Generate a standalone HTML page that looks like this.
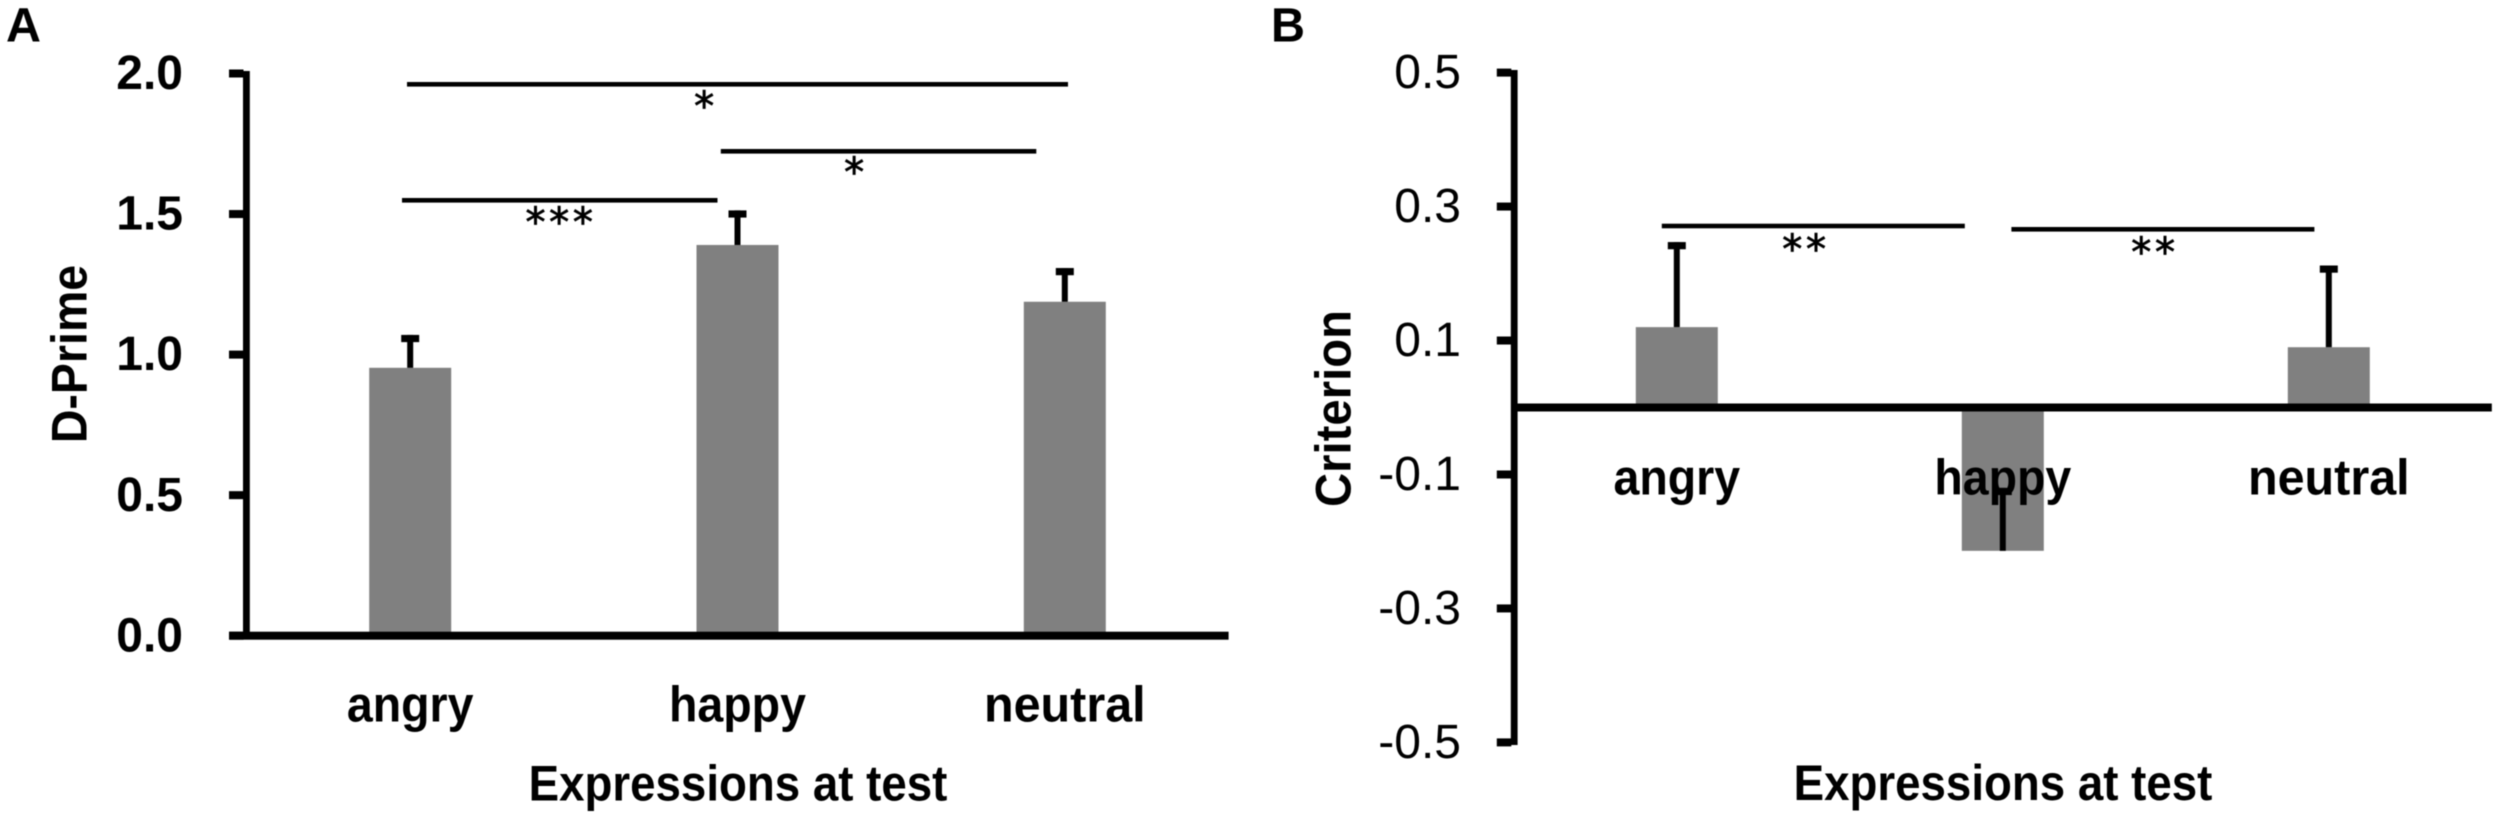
<!DOCTYPE html>
<html lang="en">
<head>
<meta charset="utf-8">
<title>D-Prime and Criterion by expression at test</title>
<style>
html,body{margin:0;padding:0;background:#fff;width:2500px;height:819px;overflow:hidden}
svg{display:block;filter:blur(.6px)}
text{font-family:"Liberation Sans",sans-serif;fill:#000}
.star{font-family:"DejaVu Sans",sans-serif;font-size:40px;text-anchor:middle;letter-spacing:3.7px;stroke:#000;stroke-width:.8px}
.panel{font-size:48px;font-weight:700}
</style>
</head>
<body>
<svg id="figure" xmlns="http://www.w3.org/2000/svg" width="2500" height="819" viewBox="0 0 2500 819">
  <rect x="0" y="0" width="2500" height="819" fill="#ffffff"/>
  <g id="panel-a"></g>
  <g id="panel-b"></g>

  <text class="panel" x="6" y="41.7" textLength="35" lengthAdjust="spacingAndGlyphs">A</text>
  <text class="panel" x="1271" y="41.7" textLength="34" lengthAdjust="spacingAndGlyphs">B</text>

  <g>
    <rect x="407" y="82" width="661" height="4.6"/>
    <text class="star" x="706" y="120">*</text>
    <rect x="720.8" y="149" width="315.5" height="4.6"/>
    <text class="star" x="856" y="186">*</text>
    <rect x="402" y="198" width="315.5" height="4.6"/>
    <text class="star" x="561" y="236">***</text>
  </g>
  <g>
    <rect x="1661.8" y="223.7" width="303" height="4.6"/>
    <text class="star" x="1806" y="263">**</text>
    <rect x="2011.4" y="227" width="303" height="4.6"/>
    <text class="star" x="2155" y="266">**</text>
  </g>
</svg>

<script>
const categories = ['angry', 'happy', 'neutral'];
const dPrimeValues = [0.953, 1.39, 1.188];
const dPrimeErrors = [0.117, 0.123, 0.12];
const dPrimeTicks = [0, 0.5, 1, 1.5, 2];
const dPrimeTickLabels = ['0.0', '0.5', '1.0', '1.5', '2.0'];
const criterionValues = [0.12, -0.214, 0.09];
const criterionErrors = [0.127, 0.094, 0.122];
const criterionTicks = [-0.5, -0.3, -0.1, 0.1, 0.3, 0.5];
const criterionTickLabels = ['-0.5', '-0.3', '-0.1', '0.1', '0.3', '0.5'];

const SVG_NS = 'http://www.w3.org/2000/svg';

function addRect(parent, name, x, y, w, h, fill) {
  const el = document.createElementNS(SVG_NS, 'rect');
  
  
  el.setAttribute('x', x);
  el.setAttribute('y', y);
  el.setAttribute('width', w);
  el.setAttribute('height', h);
  el.setAttribute('fill', fill);
  parent.appendChild(el);
  return el;
}

function addText(parent, name, str, x, y, opts) {
  const el = document.createElementNS(SVG_NS, 'text');
  
  
  el.setAttribute('x', x);
  el.setAttribute('y', y);
  el.setAttribute('font-size', opts.size);
  el.setAttribute('font-weight', opts.weight);
  el.setAttribute('text-anchor', opts.anchor);
  if (opts.rotate) {
    el.setAttribute('transform', 'rotate(-90 ' + x + ' ' + y + ')');
  }
  el.textContent = str;
  parent.appendChild(el);
  if (opts.fit) {
    const natural = el.getComputedTextLength();
    el.setAttribute('textLength', natural * opts.fit);
    el.setAttribute('lengthAdjust', 'spacingAndGlyphs');
  }
  return el;
}

function drawPanel(cfg) {
  const g = document.getElementById(cfg.id);
  const y = function (v) { return cfg.zeroY - v * cfg.yScale; };
  const x = function (i) { return cfg.firstX + i * cfg.stepX; };

  cfg.values.forEach(function (v, i) {
    const top = Math.min(y(v), y(0));
    const h = Math.abs(y(v) - y(0));
    addRect(g, 'bar-' + categories[i], x(i) - 41, top, 82, h, '#808080');
  });

  addRect(g, 'y-axis-line', cfg.axisX, cfg.axisTop, 6.8, cfg.axisBottom - cfg.axisTop, '#000');
  cfg.ticks.forEach(function (t, i) {
    addRect(g, 'y-tick', cfg.axisX - 14, y(t) - 4, 14.5, 8, '#000');
    addText(g, 'y-tick-label', cfg.tickLabels[i], cfg.tickLabelX, y(t) + 15.6,
      { size: 48, weight: cfg.tickWeight, anchor: 'end' });
  });
  addRect(g, 'x-axis-line', cfg.xAxisLeft, y(0) - 4, cfg.xAxisRight - cfg.xAxisLeft, 8, '#000');

  categories.forEach(function (c, i) {
    addText(g, 'category-label-' + c, c, x(i), cfg.catBaseline,
      { size: 50, weight: 700, anchor: 'middle', fit: c === 'neutral' ? 0.97 : 0.93 });
  });

  cfg.values.forEach(function (v, i) {
    const topY = y(v + cfg.errors[i]);
    addRect(g, 'error-stem-' + categories[i], x(i) - 3, topY, 6, y(v) - topY, '#000');
    addRect(g, 'error-cap-' + categories[i], x(i) - 9, topY, 18, 7.2, '#000');
  });

  addText(g, 'x-axis-title', 'Expressions at test', cfg.xTitleX, cfg.xTitleY,
    { size: 50, weight: 700, anchor: 'middle', fit: 0.913 });
  addText(g, 'y-axis-title', cfg.yTitle, cfg.yTitleX, cfg.yTitleY,
    { size: 50, weight: 700, anchor: 'middle', rotate: true, fit: cfg.yTitleFit });
}

drawPanel({
  id: 'panel-a', values: dPrimeValues, errors: dPrimeErrors,
  ticks: dPrimeTicks, tickLabels: dPrimeTickLabels, tickWeight: 700,
  zeroY: 635.7, yScale: 281.1, firstX: 410.2, stepX: 327.3,
  axisX: 243, axisTop: 71, axisBottom: 636,
  tickLabelX: 183, xAxisLeft: 229.4, xAxisRight: 1228.6,
  catBaseline: 721.7, xTitleX: 738, xTitleY: 800.7,
  yTitle: 'D-Prime', yTitleX: 86.5, yTitleY: 354, yTitleFit: 0.93
});

drawPanel({
  id: 'panel-b', values: criterionValues, errors: criterionErrors,
  ticks: criterionTicks, tickLabels: criterionTickLabels, tickWeight: 400,
  zeroY: 407.5, yScale: 669.8, firstX: 1676.8, stepX: 326,
  axisX: 1510.8, axisTop: 70, axisBottom: 745,
  tickLabelX: 1461, xAxisLeft: 1511, xAxisRight: 2491.8,
  catBaseline: 494.3, xTitleX: 2003, xTitleY: 800,
  yTitle: 'Criterion', yTitleX: 1350.4, yTitleY: 408.5, yTitleFit: 0.945
});
</script>
</body>
</html>
